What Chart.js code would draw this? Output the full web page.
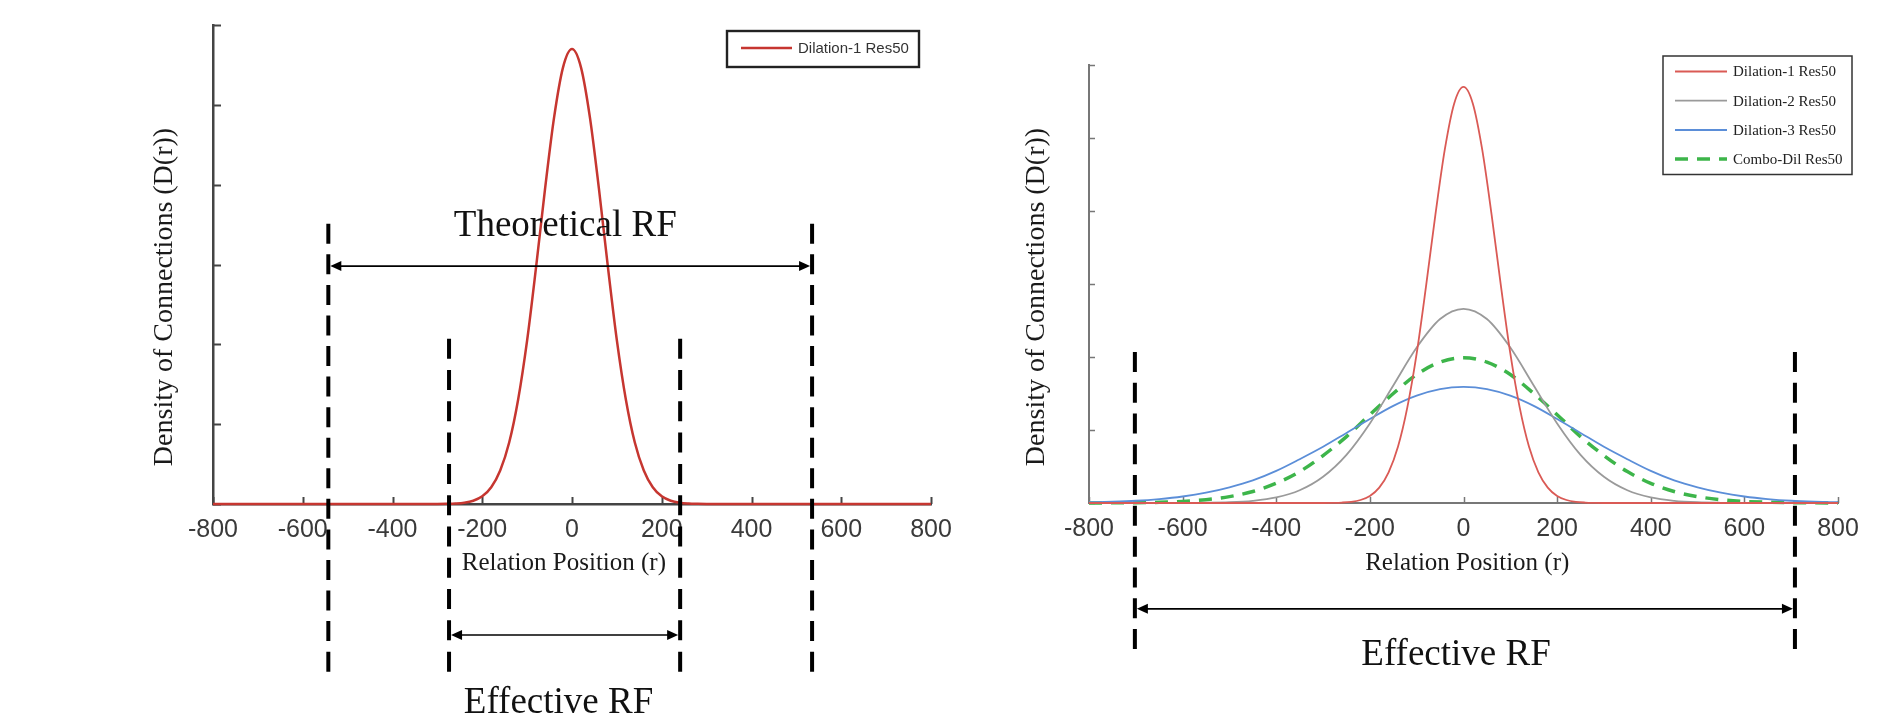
<!DOCTYPE html>
<html><head><meta charset="utf-8">
<script src="https://cdn.jsdelivr.net/npm/chart.js@4.4.1/dist/chart.umd.min.js"></script>
<style>
html,body{margin:0;padding:0;background:#fff;width:1892px;height:724px;overflow:hidden;}
#c1{position:absolute;left:0;top:0;}
#c2{position:absolute;left:946px;top:0;}
</style></head><body>
<canvas id="c1" width="960" height="724"></canvas>
<canvas id="c2" width="946" height="724"></canvas>
<script>
// ---------- data ----------
const xTickValues = [-800, -600, -400, -200, 0, 200, 400, 600, 800];
const yTickValues = [0, 1, 2, 3, 4, 5, 6];
const seriesLabels = ['Dilation-1 Res50', 'Dilation-2 Res50', 'Dilation-3 Res50', 'Combo-Dil Res50'];

const redX = [-800, -300, -280, -260, -240, -220, -200, -180, -160, -140, -120, -100, -80, -60, -40, -20,
  0, 20, 40, 60, 80, 100, 120, 140, 160, 180, 200, 220, 240, 260, 280, 300, 800];
const redY = [0, 0, 0.002, 0.006, 0.016, 0.041, 0.096, 0.21, 0.42, 0.77, 1.31, 2.05, 2.97, 3.95, 4.84, 5.47,
  5.70, 5.47, 4.84, 3.95, 2.97, 2.05, 1.31, 0.77, 0.42, 0.21, 0.096, 0.041, 0.016, 0.006, 0.002, 0, 0];

const wideX = [-800, -750, -700, -650, -600, -550, -500, -450, -400, -350, -300, -250, -200, -150, -100, -50,
  0, 50, 100, 150, 200, 250, 300, 350, 400, 450, 500, 550, 600, 650, 700, 750, 800];
const grayY = [0, 0, 0, 0, 0.001, 0.003, 0.010, 0.030, 0.076, 0.175, 0.36, 0.66, 1.09, 1.61, 2.13, 2.52,
  2.66, 2.52, 2.13, 1.61, 1.09, 0.66, 0.36, 0.175, 0.076, 0.030, 0.010, 0.003, 0.001, 0, 0, 0, 0];
const blueY = [0.010, 0.018, 0.031, 0.054, 0.089, 0.141, 0.215, 0.31, 0.44, 0.60, 0.77, 0.96, 1.15, 1.33, 1.47, 1.56,
  1.59, 1.56, 1.47, 1.33, 1.15, 0.96, 0.77, 0.60, 0.44, 0.31, 0.215, 0.141, 0.089, 0.054, 0.031, 0.018, 0.010];
const comboY = [0.001, 0.002, 0.004, 0.010, 0.022, 0.045, 0.087, 0.158, 0.27, 0.43, 0.65, 0.91, 1.21, 1.50, 1.76, 1.93,
  1.99, 1.93, 1.76, 1.50, 1.21, 0.91, 0.65, 0.43, 0.27, 0.158, 0.087, 0.045, 0.022, 0.010, 0.004, 0.002, 0.001];

const leftTheoreticalRF = [-543, 535];
const leftEffectiveRF = [-274, 241];
const rightEffectiveRF = [-702, 708];
const rfTexts = ['Theoretical RF', 'Effective RF'];
const xTitle = 'Relation Position (r)';
const yTitle = 'Density of Connections (D(r))';

// ---------- helpers ----------
const pts = (xs, ys) => xs.map((x, i) => ({x: x, y: ys[i]}));
const SERIF = "'Liberation Serif','Times New Roman',serif";
const NARROW = "'Liberation Sans Narrow','Arial Narrow','Liberation Sans',sans-serif";
const SANS = "'Liberation Sans',Arial,sans-serif";

function scales(o) {
  return {
    x: {
      type: 'linear', min: -800, max: 800,
      afterBuildTicks: s => { s.ticks = xTickValues.map(v => ({value: v})); },
      afterFit: s => { s.height = o.xHeight; s.paddingLeft = 0; s.paddingRight = 0; },
      grid: {display: false, drawTicks: false},
      border: {display: true, color: o.axisColor, width: o.axisWidth},
      ticks: {font: {family: NARROW, size: 25}, color: '#3a3a3a', padding: 11, maxRotation: 0, autoSkip: false}
    },
    y: {
      type: 'linear', min: 0, max: 6,
      afterBuildTicks: s => { s.ticks = yTickValues.map(v => ({value: v})); },
      afterFit: s => { s.width = o.yWidth; s.paddingTop = 0; s.paddingBottom = 0; },
      grid: {display: false, drawTicks: false},
      border: {display: true, color: o.axisColor, width: o.axisWidth},
      ticks: {display: false}
    }
  };
}

function arrowHead(ctx, x, y, dir) {
  ctx.beginPath();
  ctx.moveTo(x, y);
  ctx.lineTo(x - dir * 11, y - 5);
  ctx.lineTo(x - dir * 11, y + 5);
  ctx.closePath();
  ctx.fill();
}

function overlay(spec) {
  return {
    id: 'overlay',
    beforeDatasetsDraw(chart) {
      const {ctx, scales: {x, y}} = chart;
      ctx.save();
      ctx.strokeStyle = spec.axisColor;
      ctx.lineWidth = spec.tickWidth;
      const by = y.getPixelForValue(0), lx = x.getPixelForValue(-800);
      x.ticks.forEach(t => {
        const px = Math.round(x.getPixelForValue(t.value)) + 0.5;
        ctx.beginPath(); ctx.moveTo(px, by); ctx.lineTo(px, by - spec.xTickLen); ctx.stroke();
      });
      y.ticks.forEach(t => {
        const py = Math.round(y.getPixelForValue(t.value)) + 0.5;
        ctx.beginPath(); ctx.moveTo(lx, py); ctx.lineTo(lx + spec.yTickLen, py); ctx.stroke();
      });
      ctx.restore();
    },
    afterDraw(chart) {
      const {ctx, scales: {x, y}} = chart;
      ctx.save();
      // axis titles
      ctx.fillStyle = '#1a1a1a';
      ctx.textAlign = 'center';
      ctx.textBaseline = 'middle';
      ctx.font = '25px ' + SERIF;
      ctx.fillText(xTitle, x.getPixelForValue(spec.xTitleAt), spec.xTitleY);
      ctx.save();
      ctx.translate(spec.yTitleX, spec.yTitleY);
      ctx.rotate(-Math.PI / 2);
      ctx.font = '28px ' + SERIF;
      ctx.fillText(yTitle, 0, 0);
      ctx.restore();

      // dashed RF boundaries (dash pattern fitted so both ends are full dashes)
      ctx.strokeStyle = '#000';
      ctx.lineWidth = 4;
      const dash = 20;
      spec.vlines.forEach(v => {
        v.xs.forEach(xv => {
          const px = x.getPixelForValue(xv);
          const y1 = y.getPixelForValue(v.y1), y2 = y.getPixelForValue(v.y2);
          const len = y2 - y1;
          const n = Math.max(1, Math.round((len - dash) / 30));
          const gap = (len - dash) / n - dash;
          ctx.setLineDash([dash, gap]);
          ctx.beginPath();
          ctx.moveTo(px, y1);
          ctx.lineTo(px, y2);
          ctx.stroke();
        });
      });
      ctx.setLineDash([]);

      // arrows
      ctx.lineWidth = 1.6;
      ctx.fillStyle = '#000';
      spec.arrows.forEach(a => {
        const x1 = x.getPixelForValue(a.xs[0]) + 2, x2 = x.getPixelForValue(a.xs[1]) - 2;
        const py = y.getPixelForValue(a.y);
        ctx.beginPath(); ctx.moveTo(x1 + 6, py); ctx.lineTo(x2 - 6, py); ctx.stroke();
        arrowHead(ctx, x1, py, -1);
        arrowHead(ctx, x2, py, 1);
      });

      // RF labels
      ctx.fillStyle = '#111';
      ctx.font = '37px ' + SERIF;
      spec.labels.forEach(l => {
        ctx.fillText(l.text, x.getPixelForValue(l.x), y.getPixelForValue(l.y));
      });

      // legend
      const L = spec.legend;
      ctx.strokeStyle = L.borderColor;
      ctx.lineWidth = L.borderWidth;
      ctx.strokeRect(L.box[0], L.box[1], L.box[2] - L.box[0], L.box[3] - L.box[1]);
      ctx.textAlign = 'left';
      ctx.font = L.font;
      chart.data.datasets.forEach((ds, i) => {
        const ry = L.rows[i];
        ctx.strokeStyle = ds.borderColor;
        ctx.lineWidth = ds.borderWidth;
        ctx.setLineDash(ds.borderDash || []);
        ctx.beginPath(); ctx.moveTo(L.sample[0], ry); ctx.lineTo(L.sample[1], ry); ctx.stroke();
        ctx.setLineDash([]);
        ctx.fillStyle = L.textColor;
        ctx.fillText(ds.label, L.textX, ry + 1);
      });
      ctx.restore();
    }
  };
}

const common = {
  responsive: false, animation: false, devicePixelRatio: 1,
  plugins: {legend: {display: false}, tooltip: {enabled: false}},
  events: []
};
const lineDefaults = {pointRadius: 0, cubicInterpolationMode: 'monotone', clip: false, fill: false};

// ---------- left chart ----------
new Chart(document.getElementById('c1'), {
  type: 'line',
  data: {datasets: [
    Object.assign({label: seriesLabels[0], data: pts(redX, redY), borderColor: '#c63630', borderWidth: 2.5}, lineDefaults)
  ]},
  options: Object.assign({}, common, {
    layout: {padding: {left: 0, right: 29, top: 25, bottom: 0}},
    scales: scales({xHeight: 220, yWidth: 213, axisColor: '#444', axisWidth: 2.5})
  }),
  plugins: [overlay({
    axisColor: '#444', tickWidth: 2, xTickLen: 7, yTickLen: 8,
    xTitleAt: -18, xTitleY: 563, yTitleX: 165, yTitleY: 297,
    vlines: [{xs: leftTheoreticalRF, y1: 3.51, y2: -2.1}, {xs: leftEffectiveRF, y1: 2.07, y2: -2.1}],
    arrows: [{xs: leftTheoreticalRF, y: 2.98}, {xs: leftEffectiveRF, y: -1.64}],
    labels: [{text: rfTexts[0], x: -15, y: 3.48}, {text: rfTexts[1], x: -30, y: -2.49}],
    legend: {box: [727, 31, 919, 67], borderColor: '#222', borderWidth: 2.4, sample: [741, 792],
      textX: 798, rows: [48], font: '15px ' + SANS, textColor: '#333'}
  })]
});

// ---------- right chart ----------
new Chart(document.getElementById('c2'), {
  type: 'line',
  data: {datasets: [
    Object.assign({label: seriesLabels[0], data: pts(redX, redY), borderColor: '#da5a55', borderWidth: 1.8}, lineDefaults),
    Object.assign({label: seriesLabels[1], data: pts(wideX, grayY), borderColor: '#9a9a9a', borderWidth: 1.8}, lineDefaults),
    Object.assign({label: seriesLabels[2], data: pts(wideX, blueY), borderColor: '#5b8ed8', borderWidth: 1.8}, lineDefaults),
    Object.assign({label: seriesLabels[3], data: pts(wideX, comboY), borderColor: '#3db54a', borderWidth: 3.5, borderDash: [13, 9]}, lineDefaults)
  ]},
  options: Object.assign({}, common, {
    layout: {padding: {left: 0, right: 54, top: 65, bottom: 0}},
    scales: scales({xHeight: 221, yWidth: 143, axisColor: '#777', axisWidth: 2})
  }),
  plugins: [overlay({
    axisColor: '#777', tickWidth: 1.5, xTickLen: 6, yTickLen: 6,
    xTitleAt: 8, xTitleY: 563, yTitleX: 91, yTitleY: 297,
    vlines: [{xs: rightEffectiveRF, y1: 2.07, y2: -2.0}],
    arrows: [{xs: rightEffectiveRF, y: -1.45}],
    labels: [{text: rfTexts[1], x: -16, y: -2.08}],
    legend: {box: [717, 56, 906, 174.5], borderColor: '#333', borderWidth: 1.5, sample: [729, 781],
      textX: 787, rows: [71.5, 100.6, 130, 159], font: '15px ' + SERIF, textColor: '#222'}
  })]
});
</script>
</body></html>
